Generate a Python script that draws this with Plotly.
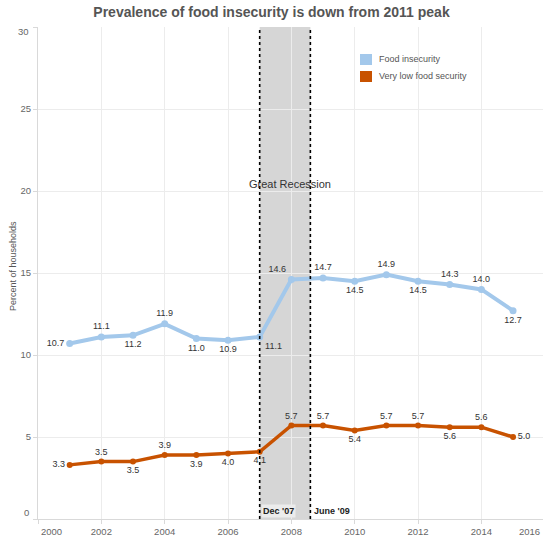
import plotly.graph_objects as go

# ---- data -------------------------------------------------------------
years = list(range(2001, 2016))
food_insecurity = [10.7, 11.1, 11.2, 11.9, 11.0, 10.9, 11.1, 14.6, 14.7, 14.5, 14.9, 14.5, 14.3, 14.0, 12.7]
very_low_food_security = [3.3, 3.5, 3.5, 3.9, 3.9, 4.0, 4.1, 5.7, 5.7, 5.4, 5.7, 5.7, 5.6, 5.6, 5.0]

series_names = ["Food insecurity", "Very low food security"]

x_tick_values = list(range(2000, 2017, 2))
y_tick_values = list(range(0, 31, 5))

recession_start, recession_end = 2007.0, 2008.6
recession_labels = ["Dec '07", "June '09"]

# label placement for each point's value
fi_text_pos = ["middle left", "top center", "bottom center", "top center", "bottom center",
               "bottom center", "bottom right", "top left", "top center", "bottom center",
               "top center", "bottom center", "top center", "top center", "bottom center"]
vl_text_pos = ["middle left", "top center", "bottom center", "top center", "bottom center",
               "bottom center", "bottom center", "top center", "top center", "bottom center",
               "top center", "top center", "bottom center", "top center", "middle right"]

# ---- styling ------------------------------------------------------------
FONT = "Arial, Liberation Sans, sans-serif"
BLUE = "#a3c8eb"
ORANGE = "#c85200"
GRID = "#ececec"
AXIS = "#d9d9d9"

W, H = 543, 537
ML, MR, MT, MB = 38, 0, 27, 18
PLOT_W = W - ML - MR
PLOT_H = H - MT - MB
PX_PER_YEAR = 31.67


def px_x(px):
    """Horizontal pixel -> paper fraction."""
    return (px - ML) / PLOT_W


def px_y(py):
    """Vertical pixel -> paper fraction."""
    return (H - MB - py) / PLOT_H


fig = go.Figure()

fig.add_trace(go.Scatter(
    x=years, y=food_insecurity, name=series_names[0],
    mode="lines+markers+text",
    line=dict(color=BLUE, width=4),
    marker=dict(color=BLUE, size=7),
    text=[f"{v:.1f}" for v in food_insecurity],
    textposition=fi_text_pos,
    textfont=dict(family=FONT, size=9, color="#333333"),
    cliponaxis=False, showlegend=False,
))

fig.add_trace(go.Scatter(
    x=years, y=very_low_food_security, name=series_names[1],
    mode="lines+markers+text",
    line=dict(color=ORANGE, width=3.5),
    marker=dict(color=ORANGE, size=6),
    text=[f"{v:.1f}" for v in very_low_food_security],
    textposition=vl_text_pos,
    textfont=dict(family=FONT, size=9, color="#333333"),
    cliponaxis=False, showlegend=False,
))

# recession band with dotted edges
fig.add_shape(type="rect", xref="x", yref="paper",
              x0=recession_start, x1=recession_end, y0=0, y1=1,
              fillcolor="#d6d6d6", line_width=0, layer="below")
for xv in (recession_start, recession_end):
    fig.add_shape(type="line", xref="x", yref="paper", x0=xv, x1=xv, y0=0, y1=1,
                  line=dict(color="black", width=1.6, dash="dot"), layer="above")

annotations = [
    dict(x=2007.95, y=20.45, xref="x", yref="y", text="Great Recession",
         showarrow=False, font=dict(family=FONT, size=11, color="#333333")),
    dict(x=recession_start, y=0.5, xref="x", yref="y", text=f"<b>{recession_labels[0]}</b>",
         showarrow=False, xanchor="left", xshift=1, bgcolor="#ececec", borderpad=1,
         font=dict(family=FONT, size=9, color="#222222")),
    dict(x=recession_end, y=0.5, xref="x", yref="y", text=f"<b>{recession_labels[1]}</b>",
         showarrow=False, xanchor="left", xshift=2,
         font=dict(family=FONT, size=9, color="#222222")),
    # edge tick labels kept inside the frame
    dict(x=0, y=0, xref="paper", yref="y", text="0", showarrow=False,
         xanchor="right", xshift=-7, yshift=7, font=dict(family=FONT, size=9.5, color="#666666")),
    dict(x=0, y=30, xref="paper", yref="y", text="30", showarrow=False,
         xanchor="right", xshift=-7, yshift=-4, font=dict(family=FONT, size=9.5, color="#666666")),
    dict(x=2000, y=0, xref="x", yref="paper", text="2000", showarrow=False,
         xanchor="left", yanchor="top", xshift=1, yshift=-5,
         font=dict(family=FONT, size=9.5, color="#666666")),
    dict(x=1, y=0, xref="paper", yref="paper", text="2016", showarrow=False,
         xanchor="right", yanchor="top", xshift=-1, yshift=-5,
         font=dict(family=FONT, size=9.5, color="#666666")),
    # vertical axis title
    dict(x=px_x(13), y=px_y(266), xref="paper", yref="paper", text="Percent of households",
         textangle=-90, showarrow=False, xanchor="center", yanchor="middle",
         font=dict(family=FONT, size=9, color="#555555")),
]

# legend swatches and labels
for i, (name, color) in enumerate(zip(series_names, [BLUE, ORANGE])):
    top = 54 + i * 17
    fig.add_shape(type="rect", xref="paper", yref="paper",
                  x0=px_x(360), x1=px_x(372), y0=px_y(top + 11), y1=px_y(top),
                  fillcolor=color, line_width=0)
    annotations.append(dict(x=px_x(377), y=px_y(top + 5.5), xref="paper", yref="paper",
                            text=name, showarrow=False, xanchor="left", yanchor="middle",
                            font=dict(family=FONT, size=9, color="#555555")))

fig.update_layout(
    width=W, height=H,
    margin=dict(l=ML, r=MR, t=MT, b=MB),
    paper_bgcolor="white", plot_bgcolor="white",
    title=dict(text="<b>Prevalence of food insecurity is down from 2011 peak</b>",
               x=0.5, xref="container", xanchor="center",
               y=1 - 12 / H, yref="container", yanchor="middle",
               font=dict(family=FONT, size=14, color="#555555")),
    annotations=annotations,
    showlegend=False,
)

fig.update_xaxes(
    range=[2000, 2000 + PLOT_W / PX_PER_YEAR],
    tickvals=x_tick_values,
    ticktext=["" if v in (2000, 2016) else str(v) for v in x_tick_values],
    showgrid=True, gridcolor=GRID, gridwidth=1, zeroline=False,
    showline=True, linecolor=AXIS, linewidth=1,
    ticks="outside", ticklen=4, tickcolor=AXIS,
    tickfont=dict(family=FONT, size=9.5, color="#666666"),
)
fig.update_yaxes(
    range=[0, 30],
    tickvals=y_tick_values,
    ticktext=["" if v in (0, 30) else str(v) for v in y_tick_values],
    showgrid=True, gridcolor=GRID, gridwidth=1, zeroline=False,
    showline=True, linecolor=AXIS, linewidth=1,
    ticks="outside", ticklen=4, tickcolor=AXIS,
    tickfont=dict(family=FONT, size=9.5, color="#666666"),
)

fig.write_html("out.html")
